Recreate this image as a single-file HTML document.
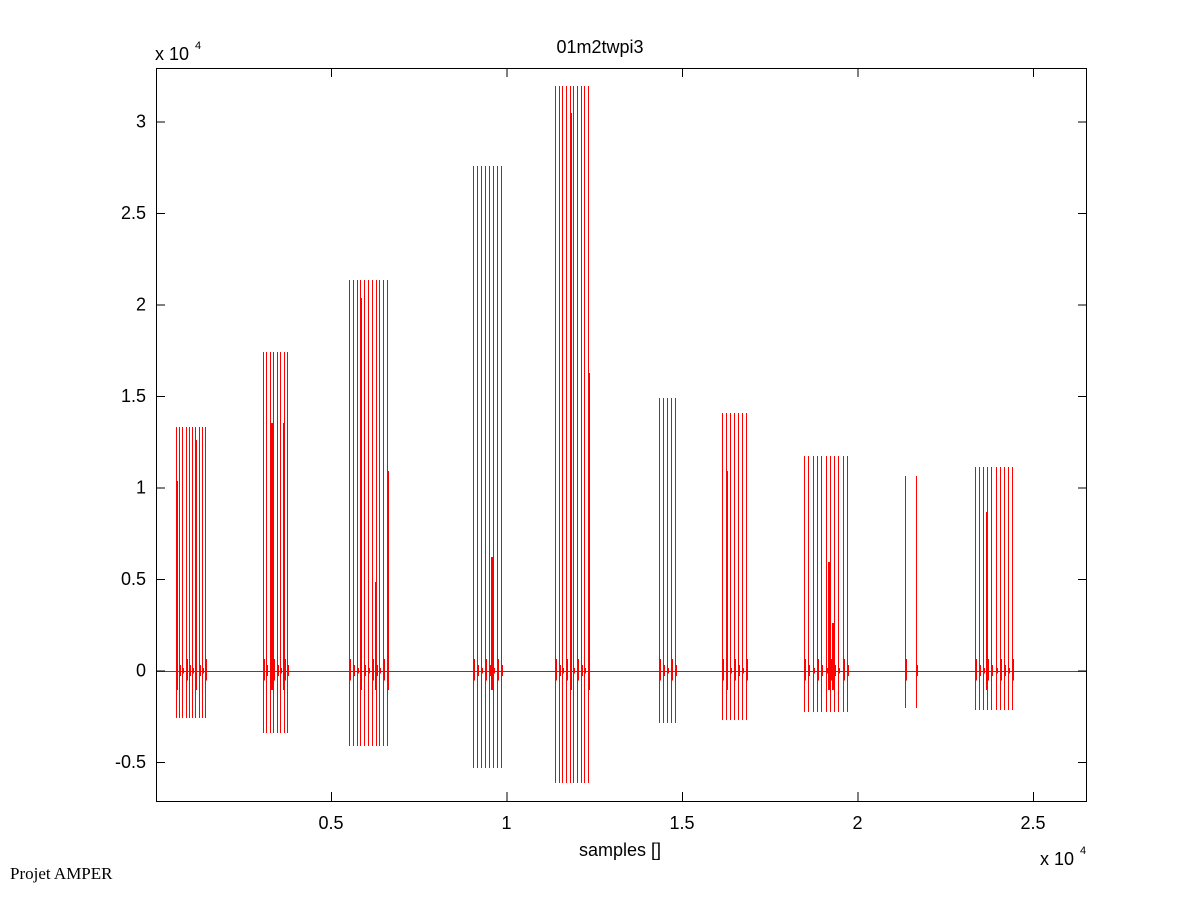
<!DOCTYPE html>
<html><head><meta charset="utf-8"><style>
body{margin:0;background:#fff;width:1201px;height:901px;overflow:hidden}
svg{display:block;font-family:"Liberation Sans",Arial,sans-serif}
</style></head><body>
<svg id="s" width="1201" height="901" xmlns="http://www.w3.org/2000/svg">
<rect width="1201" height="901" fill="#fff"/>
<g id="data" fill="#ff0000" shape-rendering="crispEdges"></g>
<rect x="156" y="671" width="931" height="1" fill="#ff0000" shape-rendering="crispEdges"/>
<rect x="156.5" y="68.5" width="930" height="733" fill="none" stroke="#000" stroke-width="1"/>
<g id="ticks" fill="#000" shape-rendering="crispEdges"></g>
<g font-size="18" fill="#000">
<text x="600" y="53" text-anchor="middle">01m2twpi3</text>
<text x="155" y="60">x 10</text><text x="195" y="49" font-size="11">4</text>
<text x="620" y="856" text-anchor="middle">samples []</text>
<text x="1040" y="865">x 10</text><text x="1080" y="854" font-size="11">4</text>
<g text-anchor="end" id="yl"></g>
<g text-anchor="middle" id="xl"></g>
</g>
<text x="10" y="879" font-family="Liberation Serif,serif" font-size="17">Projet AMPER</text>
</svg>
<script>
var NS="http://www.w3.org/2000/svg";
function el(p,t,a,txt){var e=document.createElementNS(NS,t);for(var k in a)e.setAttribute(k,a[k]);if(txt)e.textContent=txt;document.getElementById(p).appendChild(e);}
function vr(x,y1,y2,w){el("data","rect",{x:x,y:Math.min(y1,y2),width:w||1,height:Math.abs(y2-y1)});}
var C=[[176,205,10,427,718,[[176,481],[195,440]]],
[263,287,8,352,733,[[271,423],[283,423]]],
[349,387,11,280,746,[[360,298],[387,471],[375,582]]],
[473,501,8,166,768,[[491,557]]],
[555,588,10,86,783,[[570,113],[588,373]]],
[659,675,5,398,723,[]],
[722,746,7,413,720,[[726,471]]],
[804,847,11,456,712,[[828,562],[832,623]]],
[905,916,2,476,708,[]],
[975,1012,10,467,710,[[986,512]]]];
C.forEach(function(c){
 for(var i=0;i<c[2];i++){var x=Math.round(c[0]+(c[1]-c[0])*i/(c[2]-1));
  vr(x,c[3],c[4]);
  var h=(i%3==0)?12:(i%3==1?6:3);
  vr(x+1,671-h,671+h*0.8);}
 c[5].forEach(function(e){vr(e[0],e[1],690,2);});
});
var yv=["-0.5","0","0.5","1","1.5","2","2.5","3"];
for(var i=0;i<8;i++){var y=762-i*91.5;
 el("ticks","rect",{x:156,y:y,width:9,height:1});el("ticks","rect",{x:1078,y:y,width:9,height:1});
 el("yl","text",{x:146,y:y+6},yv[i]);}
var xv=["0.5","1","1.5","2","2.5"];
for(var i=0;i<5;i++){var x=331+i*175.5;
 el("ticks","rect",{x:x,y:792,width:1,height:9});el("ticks","rect",{x:x,y:68,width:1,height:9});
 el("xl","text",{x:x,y:829},xv[i]);}
</script>
</body></html>
